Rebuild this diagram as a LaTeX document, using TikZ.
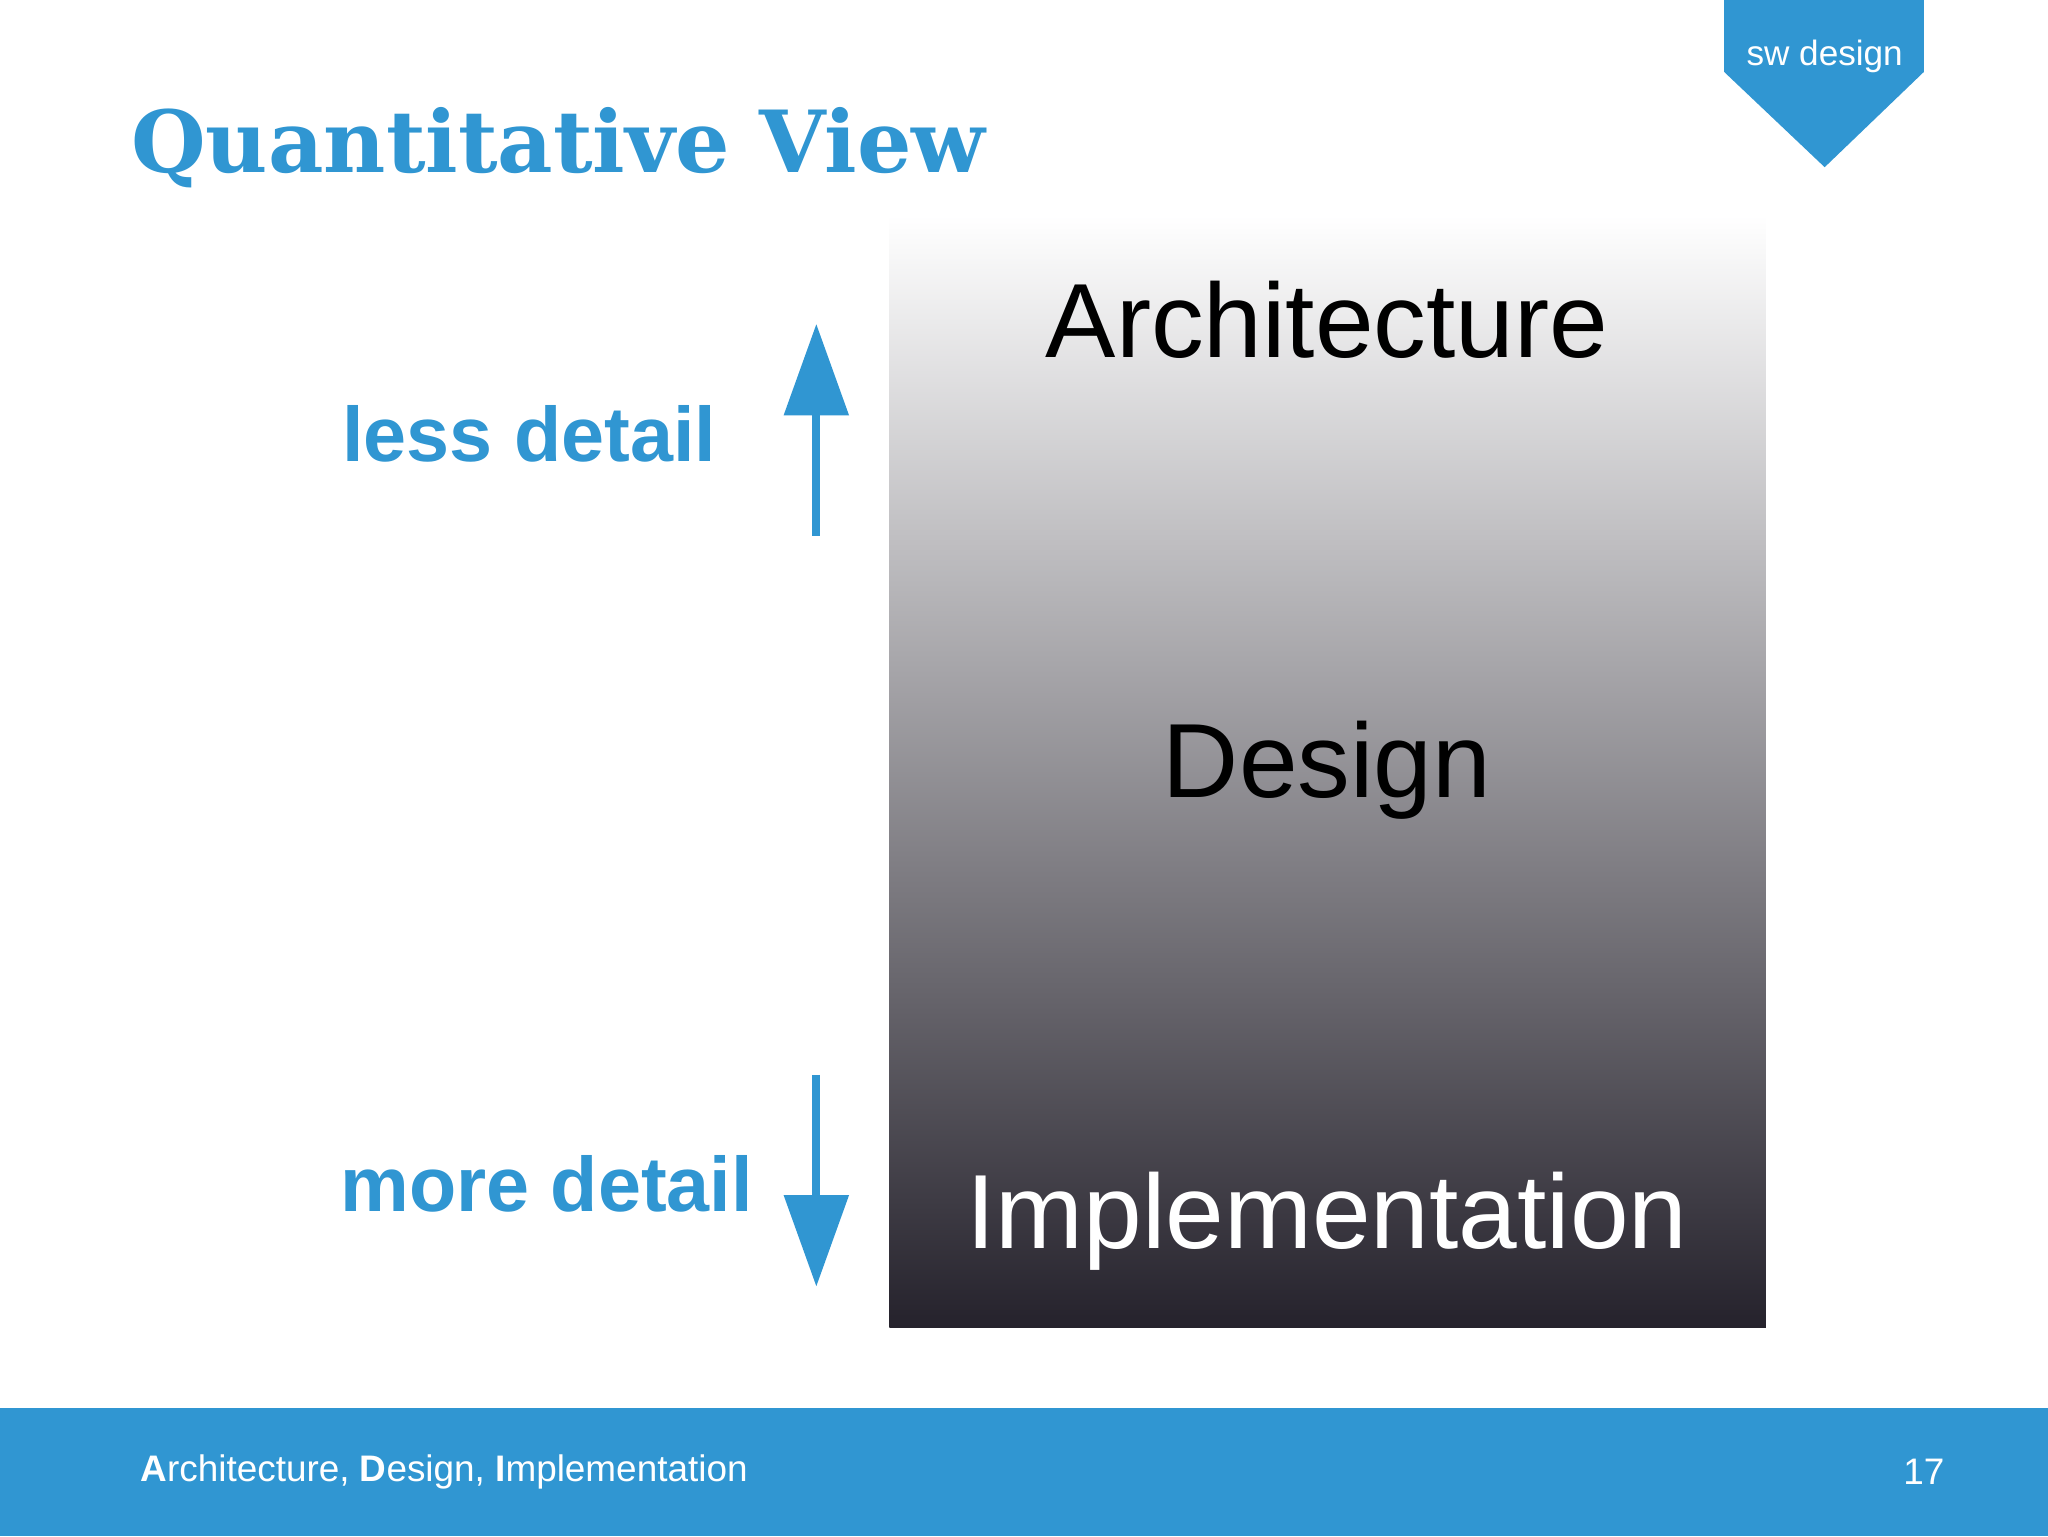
\documentclass[tikz,border=0pt]{standalone}
\usepackage{fontspec}
\setmainfont{Liberation Sans}
\newfontfamily\titlefont{DejaVu Serif}
\usetikzlibrary{arrows.meta}
\definecolor{sblue}{HTML}{3096D2}
\definecolor{dark}{HTML}{25222C}
\begin{document}
\begin{tikzpicture}[x=0.3716pt,y=-0.3716pt,
  lbl/.style={text=sblue,font=\fontsize{22}{26}\selectfont\bfseries},
  big/.style={font=\fontsize{30}{36}\selectfont},
  arr/.style={draw=sblue,line width=2.2pt,-{Triangle[length=26pt,width=18pt]}}]
\useasboundingbox (0,0) rectangle (1568,1176);
\fill[white] (0,0) rectangle (1568,1176);
% tab
\fill[sblue] (1320,0) -- (1473,0) -- (1473,55) -- (1397,128) -- (1320,55) -- cycle;
\node[text=white,font=\fontsize{10}{12}\selectfont] (tab) at (1397,43) {sw design};
% title
\node[anchor=base west,inner sep=0,text=sblue] (title) at (100,132)
  {\resizebox{243pt}{!}{\titlefont\bfseries\fontsize{28}{32}\selectfont Quantitative View}};
% box
\shade[top color=white,bottom color=dark,middle color={rgb:white,1;dark,1}] (681,165) rectangle (1352,1016);
\node[big] (arch) at (1016,245) {Architecture};
\node[big] (des) at (1016,590) {Design};
\node[big,text=white] (impl) at (1016,935) {Implementation};
% labels
\node[lbl,anchor=east] (less) at (558,332) {less detail};
\node[lbl,anchor=east] (more) at (586,906) {more detail};
\coordinate (u1) at (625,410); \coordinate (u2) at (625,248);
\coordinate (d1) at (625,823); \coordinate (d2) at (625,985);
\draw[arr] (u1) -- (u2);
\draw[arr] (d1) -- (d2);
% footer
\fill[sblue] (0,1078) rectangle (1568,1176);
\node[anchor=west,text=white,font=\fontsize{10.5}{12}\selectfont] (foot) at (98,1127)
  {\textbf{A}rchitecture, \textbf{D}esign, \textbf{I}mplementation};
\node[text=white,font=\fontsize{10.5}{12}\selectfont] (pg) at (1473,1127) {17};
\end{tikzpicture}
\end{document}
